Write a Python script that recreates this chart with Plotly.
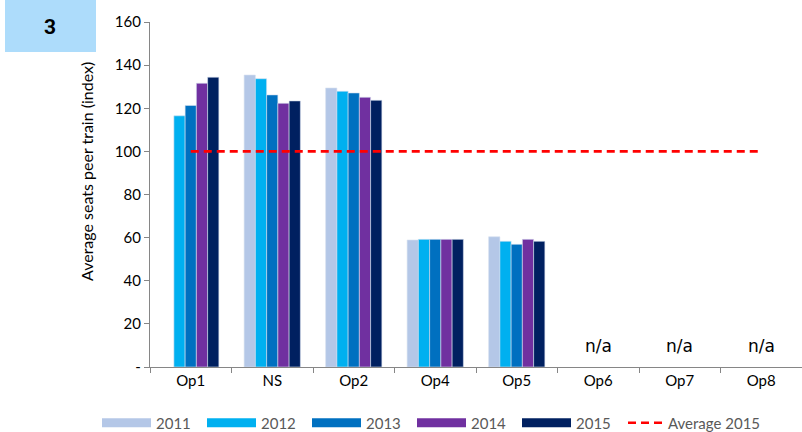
import plotly.graph_objects as go

operators = ['Op1', 'NS', 'Op2', 'Op4', 'Op5', 'Op6', 'Op7', 'Op8']
years = ['2011', '2012', '2013', '2014', '2015']
seats_2011 = [None, 135.4, 129.4, 58.9, 60.4, None, None, None]
seats_2012 = [116.5, 133.7, 127.9, 59.2, 58.3, None, None, None]
seats_2013 = [121.3, 126.2, 127.1, 59.2, 56.9, None, None, None]
seats_2014 = [131.6, 122.3, 125.1, 59.2, 59.2, None, None, None]
seats_2015 = [134.4, 123.4, 123.7, 59.2, 58.3, None, None, None]
average_2015 = [100] * len(operators)
na_ops = ['Op6', 'Op7', 'Op8']

colors = ['#B4C7E7', '#00B0F0', '#0070C0', '#7030A0', '#002060']
series = [seats_2011, seats_2012, seats_2013, seats_2014, seats_2015]

fig = go.Figure()

for year, vals, col in zip(years, series, colors):
    fig.add_trace(go.Bar(x=operators, y=vals, name=year, showlegend=False,
                         marker=dict(color=col, line=dict(color='#D6E0F0', width=0.6))))
    # wide swatch for the legend, like the original
    fig.add_trace(go.Scatter(x=[None], y=[None], mode='lines', name=year,
                             line=dict(color=col, width=9)))

fig.add_trace(go.Scatter(x=operators, y=average_2015, mode='lines',
                         line=dict(color='#FF0000', width=2.6, dash='8px,5px'),
                         name='Average 2015', legend='legend2'))

for op in na_ops:
    fig.add_annotation(x=op, y=9.7, text='n/a', showarrow=False,
                       font=dict(size=17, color='#000000', family='DejaVu Sans'))

# box with the number in the top-left corner
fig.add_shape(type='rect', xref='paper', yref='paper',
              x0=-145 / 652, x1=-54 / 652, y0=1 + (22 - 52) / 345, y1=1 + 22 / 345,
              fillcolor='#ADDCFB', line=dict(width=0))
fig.add_annotation(xref='paper', yref='paper', x=-100 / 652, y=1 + (22 - 27) / 345,
                   xanchor='center', yanchor='middle',
                   text='<b>3</b>', showarrow=False,
                   font=dict(size=21, color='#000000', family='Roboto'))

# y axis title as a rotated annotation (sits left of the tick labels)
fig.add_annotation(xref='paper', yref='paper', x=-63 / 652, y=1 - (172 - 22) / 345,
                   xanchor='center', yanchor='middle', textangle=-90,
                   text='Average seats peer train (index)', showarrow=False,
                   font=dict(size=16, color='#000000'))

legend_y = -(423 - 367) / 345

fig.update_layout(
    width=802, height=432,
    margin=dict(l=150, r=0, t=22, b=65, autoexpand=False),
    plot_bgcolor='white', paper_bgcolor='white',
    font=dict(family='Lato', size=15, color='#000000'),
    barmode='group', bargap=0.31, bargroupgap=0,
    xaxis=dict(showline=True, linecolor='#868686', linewidth=1.3, automargin=False,
               ticks='outside', tickson='boundaries', ticklen=5, tickcolor='#868686',
               tickfont=dict(size=15, color='#000000')),
    yaxis=dict(range=[0, 160], tickvals=[0, 20, 40, 60, 80, 100, 120, 140, 160],
               ticktext=['-', '20', '40', '60', '80', '100', '120', '140', '160'],
               showline=True, linecolor='#868686', linewidth=1.3, showgrid=False,
               automargin=False, zeroline=False,
               ticks='outside', ticklen=5, tickcolor='#868686',
               tickfont=dict(size=15, color='#000000')),
    legend=dict(orientation='h', xref='container', x=97 / 802, xanchor='left',
                y=legend_y, yanchor='middle', itemwidth=49,
                entrywidth=41, entrywidthmode='pixels',
                font=dict(size=15, color='#595959'), traceorder='normal'),
    legend2=dict(orientation='h', xref='container', x=623 / 802, xanchor='left',
                 y=legend_y, yanchor='middle', itemwidth=35,
                 font=dict(size=15, color='#595959')),
    showlegend=True,
)

fig.write_html("out.html", post_script="document.body.style.margin='0';",
               config={'displayModeBar': False})
